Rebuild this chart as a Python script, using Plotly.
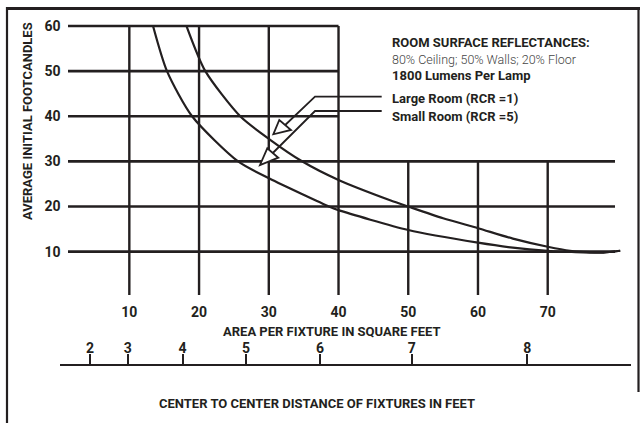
import plotly.graph_objects as go

# ---------------- data ----------------
large_x = [18.2, 20.9, 25.9, 30.1, 34.7, 40.0, 47.4, 50.0, 55.0, 60.0, 65.0, 70.0, 73.2, 76.0, 78.5, 80.4]
large_y = [60.0, 50.0, 40.0, 34.9, 30.1, 25.9, 21.4, 20.0, 17.4, 15.2, 12.9, 11.1, 10.2, 9.9, 9.9, 10.2]
small_x = [13.4, 15.4, 19.0, 25.6, 30.1, 38.8, 40.0, 50.0, 60.0, 65.0, 70.0, 74.0, 78.0, 80.4]
small_y = [60.0, 50.0, 40.0, 30.0, 26.2, 19.9, 19.2, 14.8, 12.0, 10.9, 10.2, 9.9, 9.8, 10.2]

y_ticks = [10, 20, 30, 40, 50, 60]
x_ticks = [10, 20, 30, 40, 50, 60, 70]
dist_tick_pos = [3.9, 9.2, 16.9, 25.8, 36.2, 49.1, 65.3]   # area positions
dist_tick_labels = ["2", "3", "4", "5", "6", "7", "8"]

grid_v_full = [10, 20, 30, 40]
grid_v_short = [50, 60, 70]
grid_h_long = [10, 20, 30]
grid_h_short = [40, 50, 60]

legend_lines = [
    ("ROOM SURFACE REFLECTANCES:", True),
    ("80% Ceiling; 50% Walls; 20% Floor", False),
    ("1800 Lumens Per Lamp", True),
    ("Large Room (RCR =1)", True),
    ("Small Room (RCR =5)", True),
]

# ---------------- geometry ----------------
W, H = 640, 423
ML, MR, MT, MB = 40, 8, 17, 10
PW, PH = W - ML - MR, H - MT - MB
PX0, PXS = 59.6, 6.973      # pixel of x=0, px per unit
PY0 = 296.8                 # pixel of y=0
XR = [0, 82]
YR = [0, 62]
PYS = (PY0 - MT) / YR[1]

def px(x):  # pixel -> paper x
    return (x - ML) / PW

def py(y):  # pixel -> paper y
    return (H - MB - y) / PH

INK = "#231f20"
FONT = "Roboto, Liberation Sans, sans-serif"

fig = go.Figure()

fig.add_trace(go.Scatter(x=large_x, y=large_y, mode="lines", name="Large Room (RCR =1)",
                         line=dict(color=INK, width=2.2, shape="spline", smoothing=0.7),
                         showlegend=False, cliponaxis=True))
fig.add_trace(go.Scatter(x=small_x, y=small_y, mode="lines", name="Small Room (RCR =5)",
                         line=dict(color=INK, width=2.2, shape="spline", smoothing=0.7),
                         showlegend=False, cliponaxis=True))

# distance axis needs a trace on xaxis2
fig.add_trace(go.Scatter(x=[None], y=[None], xaxis="x2", yaxis="y", showlegend=False))

shapes = []
gx0 = (68 - PX0) / PXS
gx1 = (615 - PX0) / PXS
gy0 = (PY0 - 295) / PYS
for v in grid_v_full:
    shapes.append(dict(type="line", xref="x", yref="y", x0=v, x1=v, y0=gy0, y1=60,
                       line=dict(color=INK, width=2.4), layer="below"))
for v in grid_v_short:
    shapes.append(dict(type="line", xref="x", yref="y", x0=v, x1=v, y0=gy0, y1=30,
                       line=dict(color=INK, width=2.4), layer="below"))
for h in grid_h_long:
    shapes.append(dict(type="line", xref="x", yref="y", x0=gx0, x1=gx1, y0=h, y1=h,
                       line=dict(color=INK, width=2.6), layer="below"))
for h in grid_h_short:
    shapes.append(dict(type="line", xref="x", yref="y", x0=gx0, x1=40, y0=h, y1=h,
                       line=dict(color=INK, width=2.6), layer="below"))

def path(points, close=False):
    s = "M " + " L ".join(f"{px(a):.5f},{py(b):.5f}" for a, b in points)
    return s + (" Z" if close else "")

# leader lines with hollow arrowheads
shapes.append(dict(type="path", xref="paper", yref="paper",
                   path=path([(381.7, 96.7), (315, 96.7), (285.2, 125)]),
                   line=dict(color=INK, width=1.8)))
shapes.append(dict(type="path", xref="paper", yref="paper",
                   path=path([(381.7, 111), (315, 111), (272.8, 153)]),
                   line=dict(color=INK, width=1.8)))
shapes.append(dict(type="path", xref="paper", yref="paper",
                   path=path([(273.3, 134.3), (279.3, 120), (291, 130)], close=True),
                   line=dict(color=INK, width=1.8), fillcolor="white"))
shapes.append(dict(type="path", xref="paper", yref="paper",
                   path=path([(260, 165), (267.3, 148.3), (278.3, 157.7)], close=True),
                   line=dict(color=INK, width=1.8), fillcolor="white"))

# frame
shapes.append(dict(type="line", xref="paper", yref="paper", x0=px(6), x1=px(641), y0=py(8.5), y1=py(8.5),
                   line=dict(color=INK, width=3.2)))
shapes.append(dict(type="line", xref="paper", yref="paper", x0=px(7), x1=px(7), y0=py(7), y1=py(424),
                   line=dict(color=INK, width=2.2)))
shapes.append(dict(type="line", xref="paper", yref="paper", x0=px(638.5), x1=px(638.5), y0=py(7), y1=py(392),
                   line=dict(color=INK, width=2.2)))

annotations = []
leg_y = [43, 59, 75, 98, 117]
leg_size = [13, 12.5, 13, 13, 13]
for (txt, bold), yy, sz in zip(legend_lines, leg_y, leg_size):
    annotations.append(dict(xref="paper", yref="paper", x=px(390), y=py(yy), xanchor="left", yanchor="middle",
                            text=txt, showarrow=False,
                            font=dict(family=FONT, size=sz, color=INK if bold else "#444",
                                      weight=700 if bold else 300)))
annotations.append(dict(xref="paper", yref="paper", x=px(332), y=py(331), xanchor="center", yanchor="middle",
                        text="AREA PER FIXTURE IN SQUARE FEET", showarrow=False,
                        font=dict(family=FONT, size=13, color=INK, weight=700)))
annotations.append(dict(xref="paper", yref="paper", x=px(317), y=py(403), xanchor="center", yanchor="middle",
                        text="CENTER TO CENTER DISTANCE OF FIXTURES IN FEET", showarrow=False,
                        font=dict(family=FONT, size=13, color=INK, weight=700)))
annotations.append(dict(xref="paper", yref="paper", x=px(27), y=py(121), xanchor="center", yanchor="middle",
                        text="AVERAGE INITIAL FOOTCANDLES", showarrow=False, textangle=-90,
                        font=dict(family=FONT, size=13, color=INK, weight=700)))

x2_lo = (57 - PX0) / PXS
x2_hi = (617 - PX0) / PXS

fig.update_layout(
    width=W, height=H,
    margin=dict(l=ML, r=MR, t=MT, b=MB, pad=0),
    paper_bgcolor="white", plot_bgcolor="white",
    showlegend=False,
    shapes=shapes, annotations=annotations,
    xaxis=dict(range=XR, domain=[px(PX0), px(PX0 + XR[1] * PXS)], anchor="y",
               showgrid=False, zeroline=False, showline=False, ticks="",
               tickvals=x_ticks, ticktext=[str(v) for v in x_ticks],
               tickfont=dict(family=FONT, size=14, color=INK, weight=700), ticklabelstandoff=5),
    yaxis=dict(range=YR, domain=[py(PY0), 1], anchor="x",
               showgrid=False, zeroline=False, showline=False, ticks="",
               tickvals=y_ticks, ticktext=[str(v) for v in y_ticks],
               tickfont=dict(family=FONT, size=14, color=INK, weight=700), ticklabelstandoff=-2),
    xaxis2=dict(range=[x2_lo, x2_hi], domain=[px(57), px(617)], anchor="free", position=py(365),
                overlaying="x", side="top", showgrid=False, zeroline=False,
                showline=True, linecolor=INK, linewidth=2.2,
                ticks="outside", ticklen=10, tickwidth=2, tickcolor=INK,
                tickvals=dist_tick_pos, ticktext=dist_tick_labels,
                tickfont=dict(family=FONT, size=14, color=INK, weight=700), ticklabelstandoff=-5),
)

fig.write_html("out.html", config={"displayModeBar": False},
               post_script="document.body.style.margin='0';document.body.style.overflow='hidden';")
